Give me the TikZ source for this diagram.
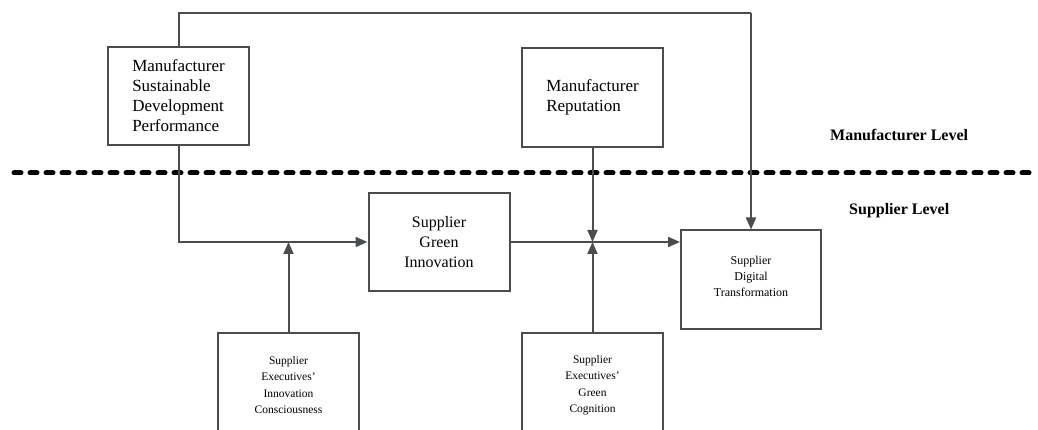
\documentclass[tikz,border=0pt]{standalone}
\usepackage{fontspec}
\setmainfont{Liberation Serif}
\usetikzlibrary{arrows.meta,calc}
\definecolor{ln}{HTML}{4A4D50}
\tikzset{
  box/.style={draw=ln, line width=2pt, minimum width=141pt, minimum height=98pt, inner sep=0pt, text=black},
  conn/.style={draw=ln, line width=2pt},
  arr/.style={conn, -{Triangle[length=12pt,width=10pt]}},
  big/.style={font=\fontsize{17}{20}\selectfont},
  mid/.style={font=\fontsize{16}{20}\selectfont},
  small/.style={font=\fontsize{12}{16}\selectfont},
  tiny/.style={font=\fontsize{11.5}{16.5}\selectfont},
  lvl/.style={font=\fontsize{16}{19}\selectfont\bfseries, inner sep=0pt},
}
\begin{document}
\begin{tikzpicture}[x=1pt,y=-1pt]
\useasboundingbox (0,0) rectangle (1038,430);
\clip (0,0) rectangle (1038,430);
% level divider
\draw[line width=5pt, line cap=round, dash pattern=on 7pt off 9pt] (14,173) -- (1036,173);
\node[lvl, anchor=west] (ml) at (830,135) {Manufacturer Level};
\node[lvl, anchor=west] (sl) at (849,211) {Supplier Level};
% boxes
\node[box, big, align=left, fill=white] (B1) at (178.5,96) {Manufacturer\\Sustainable\\Development\\Performance};
\node[box, big, align=left, minimum height=99pt] (MR) at (592.5,97.5) {Manufacturer\\Reputation};
\node[box, mid, align=center] (GI) at (439,242) {Supplier\\Green\\Innovation};
\node[box, minimum width=140pt] (DT) at (751,279.5) {};
\node[small, align=center, inner sep=0pt] (DTt) at (751,276) {Supplier\\Digital\\Transformation};
\node[box, tiny, align=center, minimum height=104pt] (SEIC) at (288.5,385) {Supplier\\Executives’\\Innovation\\Consciousness};
\node[box, tiny, align=center, minimum height=104pt] (SEGC) at (592.5,385) {Supplier\\Executives’\\Green\\Cognition};
% junction points
\coordinate (T) at (751,13);
\coordinate (J1) at (288.5,242);
\coordinate (J2) at (592.5,242);
% connectors
\draw[conn] (B1.north) |- (T);
\draw[arr] (T) -- (DT.north);
\draw[arr] (B1.south) |- (GI.west);
\draw[arr] (SEIC.north) -- (J1);
\draw[arr] (GI.east) -- (GI.east -| DT.west);
\draw[arr] (MR.south) -- (J2);
\draw[arr] (SEGC.north) -- (J2);
\end{tikzpicture}
\end{document}
